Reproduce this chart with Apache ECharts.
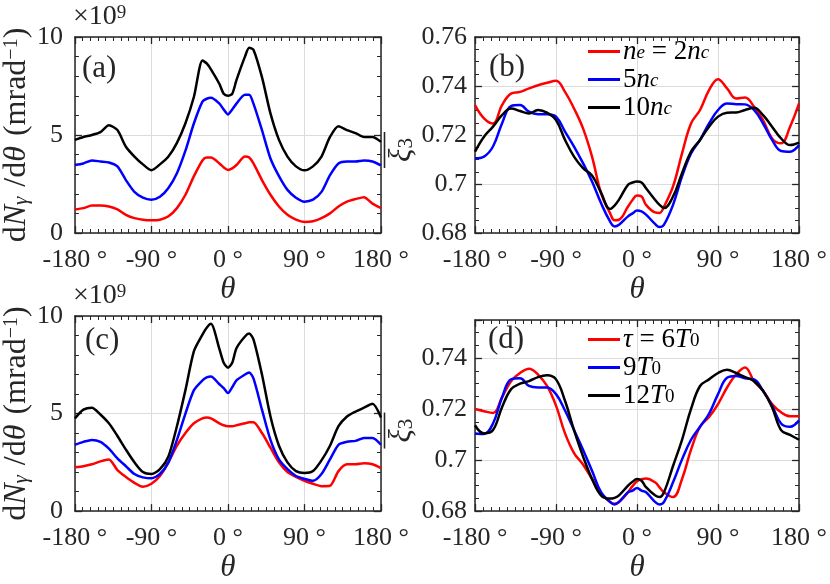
<!DOCTYPE html>
<html>
<head>
<meta charset="utf-8">
<script src="https://cdn.jsdelivr.net/npm/echarts@6/dist/echarts.min.js"></script>
<style>
html,body{margin:0;padding:0;background:#fff;}
#chart{width:830px;height:584px;}
</style>
</head>
<body>
<div id="chart"></div>
<script>
// ---- data ----
const theta = [-180,-170,-160,-150,-140,-130,-120,-110,-100,-90,-80,-70,-60,-50,-40,-30,-25,-20,-10,-5,0,5,10,20,25,30,40,50,60,70,80,90,100,110,120,130,140,150,160,170,180];
const xTicks = [-180,-90,0,90,180];

// panel (a): dN/dθ (×1e9), ne = 2nc, 5nc, 10nc
const a_red   = [1.2,1.27,1.4,1.4,1.35,1.2,0.93,0.76,0.68,0.65,0.68,0.85,1.27,1.95,2.9,3.7,3.85,3.85,3.55,3.35,3.22,3.3,3.47,3.9,3.85,3.55,2.7,1.95,1.35,0.93,0.68,0.56,0.6,0.76,1.0,1.35,1.6,1.73,1.83,1.5,1.27];
const a_blue  = [3.47,3.55,3.7,3.65,3.6,3.4,2.7,2.1,1.8,1.7,1.85,2.3,3.05,4.2,5.6,6.7,6.85,6.9,6.6,6.3,6.05,6.3,6.6,7.05,7.05,6.6,5.25,3.8,2.9,2.2,1.8,1.6,1.7,2.1,2.95,3.55,3.65,3.65,3.7,3.65,3.45];
const a_black = [4.75,4.9,5.0,5.15,5.5,5.25,4.4,3.9,3.5,3.2,3.5,3.9,4.6,5.6,6.95,8.8,8.65,8.35,7.6,7.1,7.0,7.1,7.8,9.0,9.45,9.35,7.95,6.1,4.75,3.9,3.4,3.2,3.4,3.9,4.9,5.45,5.25,5.1,4.9,4.9,4.65];

// panel (b): ξ3, ne = 2nc, 5nc, 10nc
const b_red   = [0.7322,0.7268,0.7247,0.7322,0.7369,0.7376,0.739,0.7403,0.7413,0.7421,0.7376,0.7308,0.7227,0.7112,0.6963,0.6881,0.6852,0.6854,0.6908,0.6935,0.6953,0.6949,0.6915,0.6884,0.6882,0.6908,0.699,0.7125,0.7247,0.7302,0.7383,0.7428,0.739,0.7349,0.7353,0.7315,0.7261,0.7186,0.7166,0.7234,0.7329];
const b_blue  = [0.7105,0.7112,0.7153,0.7247,0.7318,0.7322,0.7295,0.7285,0.7285,0.7275,0.7214,0.7153,0.7085,0.701,0.6922,0.6847,0.6827,0.6834,0.6868,0.688,0.6892,0.6888,0.6875,0.6837,0.6824,0.6834,0.6915,0.7031,0.7125,0.718,0.7247,0.7302,0.7329,0.7326,0.7325,0.7302,0.7247,0.718,0.7135,0.7132,0.7159];
const b_black = [0.7132,0.7193,0.7234,0.7281,0.7308,0.7298,0.7288,0.7302,0.7291,0.7261,0.718,0.7112,0.7065,0.7035,0.6965,0.6898,0.6912,0.6936,0.6997,0.7006,0.701,0.7006,0.6983,0.6936,0.6915,0.6902,0.6949,0.7044,0.7132,0.718,0.7234,0.7275,0.7291,0.7292,0.7302,0.7311,0.7281,0.7234,0.7186,0.7159,0.7169];

// panel (c): dN/dθ (×1e9), τ = 6T0, 9T0, 12T0
const c_red   = [2.25,2.3,2.4,2.55,2.65,2.1,1.75,1.45,1.25,1.4,1.8,2.5,3.35,4.0,4.5,4.75,4.8,4.75,4.5,4.4,4.35,4.35,4.4,4.5,4.55,4.55,4.0,3.25,2.5,2.0,1.75,1.55,1.4,1.28,1.3,2.05,2.4,2.4,2.45,2.4,2.2];
const c_blue  = [3.4,3.55,3.65,3.55,3.2,2.7,2.3,1.9,1.73,1.68,1.9,2.5,3.65,5.0,6.2,6.7,6.85,6.9,6.5,6.3,6.05,6.35,6.7,7.0,7.1,6.8,5.2,3.65,2.65,2.15,1.8,1.65,1.55,1.9,2.65,3.4,3.55,3.6,3.75,3.75,3.4];
const c_black = [4.75,5.2,5.3,4.95,4.5,3.85,3.15,2.5,2.0,1.9,2.15,2.8,4.35,6.2,8.2,9.05,9.4,9.6,8.3,7.6,7.35,7.6,8.35,8.95,9.1,8.8,7.0,4.85,3.35,2.5,2.05,1.95,2.05,2.6,3.35,4.35,4.85,5.1,5.3,5.5,4.8];

// panel (d): ξ3, τ = 6T0, 9T0, 12T0
const d_red   = [0.7201,0.7192,0.7185,0.7246,0.731,0.7342,0.7359,0.7336,0.7291,0.7214,0.7105,0.7028,0.6983,0.6926,0.6868,0.6836,0.6829,0.6836,0.6874,0.6898,0.6917,0.6925,0.6928,0.6913,0.6893,0.6874,0.6855,0.6926,0.7041,0.7131,0.7169,0.722,0.7285,0.7336,0.7364,0.731,0.7272,0.722,0.7188,0.7172,0.7172];
const d_blue  = [0.7105,0.7103,0.7144,0.7246,0.7317,0.7321,0.7291,0.7285,0.7285,0.7259,0.7195,0.7118,0.7041,0.6958,0.6874,0.6836,0.6826,0.6836,0.6874,0.688,0.6891,0.688,0.6874,0.6836,0.6826,0.6836,0.6913,0.7003,0.708,0.7131,0.7182,0.7259,0.7323,0.733,0.7321,0.7317,0.7272,0.7214,0.7144,0.7131,0.7156];
const d_black = [0.7137,0.7105,0.7118,0.7208,0.7278,0.73,0.731,0.7326,0.7333,0.7317,0.7233,0.7118,0.7015,0.6926,0.6862,0.6849,0.6852,0.6862,0.69,0.6915,0.6926,0.6919,0.6894,0.6862,0.6855,0.6874,0.6977,0.708,0.7201,0.7291,0.7317,0.7342,0.7355,0.7342,0.7326,0.731,0.7272,0.7208,0.7118,0.7099,0.708];

const legendB = ['ne2', 'ne5', 'ne10'];
const legendD = ['tau6', 'tau9', 'tau12'];

// ---- styling ----
const FONT = 'Liberation Serif';
const AX = '#262626';
const GRIDC = '#dcdcdc';
const COLORS = ['#ff0000', '#0000ff', '#000000'];

function tok(size, italic, extra) {
  return Object.assign({fontFamily: FONT, fontSize: size, fontStyle: italic ? 'italic' : 'normal',
    fontWeight: 'normal', color: AX}, extra || {});
}
const rich = {
  r: tok(32, false, {lineHeight: 30}),
  i: tok(32, true, {lineHeight: 30}),
  s: tok(21, true, {lineHeight: 18, verticalAlign: 'bottom'}),
  p: tok(20, false, {lineHeight: 18, verticalAlign: 'top'}),
  sp: {width: 10, fontSize: 4, lineHeight: 4, fontFamily: FONT},
  xr: tok(28, false, {lineHeight: 26}),
  xp: tok(19, false, {lineHeight: 17, verticalAlign: 'top'}),
  xi: tok(31, true, {lineHeight: 30}),
  x3: tok(21, false, {lineHeight: 18, verticalAlign: 'bottom'}),
  bar: {width: 36, height: 1.6, backgroundColor: AX, fontSize: 2, lineHeight: 5, fontFamily: FONT}
};
const legendRich = {
  r: tok(27, false, {color: '#000', lineHeight: 22}),
  i: tok(27, true, {color: '#000', lineHeight: 22}),
  s: tok(19, true, {color: '#000', lineHeight: 14, verticalAlign: 'bottom'}),
  sr: tok(19, false, {color: '#000', lineHeight: 14, verticalAlign: 'bottom'})
};
const legendText = {
  ne2: '{i|n}{s|e}{r| = 2}{i|n}{s|c}',
  ne5: '{r|5}{i|n}{s|c}',
  ne10: '{r|10}{i|n}{s|c}',
  tau6: '{i|τ}{r| = 6}{i|T}{sr|0}',
  tau9: '{r|9}{i|T}{sr|0}',
  tau12: '{r|12}{i|T}{sr|0}'
};

const grids = [
  {left: 72, top: 37, width: 309, height: 196},
  {left: 475, top: 37, width: 326, height: 196},
  {left: 72, top: 316, width: 309, height: 199},
  {left: 475, top: 320, width: 326, height: 195}
];
const yRanges = [
  {min: 0, max: 10, interval: 5, minor: 5},
  {min: 0.68, max: 0.76, interval: 0.02, minor: 4},
  {min: 0, max: 10, interval: 5, minor: 5},
  {min: 0.68, max: 0.755, interval: 0.02, minor: 4}
];
const thetaGap = [31, 31, 37, 37];

const xAxis = [], yAxis = [];
grids.forEach((g, gi) => {
  const lineStyle = {color: AX, width: 1.5};
  const base = {
    type: 'value', gridIndex: gi, min: -180, max: 180, interval: 90,
    axisLine: {show: true, onZero: false, lineStyle},
    axisTick: {show: true, inside: true, length: 7, lineStyle: {color: AX, width: 1.3}},
    minorTick: {show: true, splitNumber: 10, length: 4, lineStyle: {color: AX, width: 1}}
  };
  xAxis.push(Object.assign({}, base, {
    position: 'bottom',
    splitLine: {show: true, lineStyle: {color: GRIDC, width: 1}},
    axisLabel: {margin: 14, fontSize: 26, fontFamily: FONT, fontWeight: 'normal', color: AX,
      formatter: v => (xTicks.indexOf(v) >= 0 ? String(v) + ' °' : '')},
    name: 'θ', nameLocation: 'middle', nameGap: thetaGap[gi],
    nameTextStyle: {fontFamily: FONT, fontSize: 31, fontStyle: 'italic', fontWeight: 'normal', color: AX}
  }));
  xAxis.push(Object.assign({}, base, {
    position: 'top', splitLine: {show: false}, axisLabel: {show: false}
  }));
  const yr = yRanges[gi];
  const ybase = {
    type: 'value', gridIndex: gi, min: yr.min, max: yr.max, interval: yr.interval,
    axisLine: {show: true, onZero: false, lineStyle},
    axisTick: {show: true, inside: true, length: 7, lineStyle: {color: AX, width: 1.3}},
    minorTick: {show: true, splitNumber: yr.minor, length: 4, lineStyle: {color: AX, width: 1}}
  };
  const isXi = (gi % 2 === 1);
  const left = Object.assign({}, ybase, {
    position: 'left',
    splitLine: {show: true, lineStyle: {color: GRIDC, width: 1}},
    axisLabel: {margin: isXi ? 8 : 12, fontSize: 26, fontFamily: FONT, fontWeight: 'normal',
      color: AX, showMaxLabel: gi !== 3, formatter: v => String(+v.toFixed(3))},
    nameLocation: 'middle', nameRotate: 90
  });
  if (isXi) {
    left.name = '{bar| }\n{xi|ξ}{x3|3}';
    left.nameGap = 58;
    left.nameTextStyle = {fontFamily: FONT, rich, padding: [0, 30, 0, 0]};
  } else {
    left.name = '{r|d}{i|N}{s|γ}{sp| }{r|/d}{i|θ}{sp| }{r|(mrad}{p|−1}{r|)}';
    left.nameGap = 39;
    left.nameTextStyle = {fontFamily: FONT, rich};
  }
  yAxis.push(left);
  yAxis.push(Object.assign({}, ybase, {
    position: 'right', splitLine: {show: false}, axisLabel: {show: false}
  }));
});

function mk(name, arr, gi, ci, smooth) {
  return {
    name, type: 'line', xAxisIndex: 2 * gi, yAxisIndex: 2 * gi,
    data: theta.map((t, k) => [t, arr[k]]),
    showSymbol: false, smooth: smooth,
    lineStyle: {color: COLORS[ci], width: 2.5},
    itemStyle: {color: COLORS[ci]},
    emphasis: {disabled: true}
  };
}

const series = [
  mk('a2', a_red, 0, 0, 0.25), mk('a5', a_blue, 0, 1, 0.25), mk('a10', a_black, 0, 2, 0.25),
  mk(legendB[0], b_red, 1, 0, 0.4), mk(legendB[1], b_blue, 1, 1, 0.4), mk(legendB[2], b_black, 1, 2, 0.4),
  mk('c6', c_red, 2, 0, 0.25), mk('c9', c_blue, 2, 1, 0.25), mk('c12', c_black, 2, 2, 0.25),
  mk(legendD[0], d_red, 3, 0, 0.4), mk(legendD[1], d_blue, 3, 1, 0.4), mk(legendD[2], d_black, 3, 2, 0.4)
];

const legendBase = {
  orient: 'vertical', icon: 'rect', itemWidth: 32, itemHeight: 3, itemGap: 1,
  selectedMode: false,
  formatter: n => legendText[n],
  textStyle: {fontFamily: FONT, rich: legendRich, padding: [0, 0, 0, -2]}
};

const titleStyle = {fontFamily: FONT, fontSize: 31, fontWeight: 'normal', color: AX};
const option = {
  backgroundColor: '#fff',
  animation: false,
  textStyle: {fontFamily: FONT},
  title: [
    {text: '(a)', left: 82, top: 53, textStyle: titleStyle, padding: 0},
    {text: '(b)', left: 489, top: 52, textStyle: titleStyle, padding: 0},
    {text: '(c)', left: 85, top: 325, textStyle: titleStyle, padding: 0},
    {text: '(d)', left: 488, top: 324, textStyle: titleStyle, padding: 0},
    {text: '{xr|×10}{xp|9}', left: 73, top: 4, padding: 0, textStyle: {fontFamily: FONT, fontWeight: 'normal', rich}},
    {text: '{xr|×10}{xp|9}', left: 73, top: 283, padding: 0, textStyle: {fontFamily: FONT, fontWeight: 'normal', rich}}
  ],
  legend: [
    Object.assign({}, legendBase, {data: legendB, left: 583, top: 33}),
    Object.assign({}, legendBase, {data: legendD, left: 583, top: 321})
  ],
  grid: grids.map(g => Object.assign({show: false}, g)),
  xAxis, yAxis, series
};

const chart = echarts.init(document.getElementById('chart'));
chart.setOption(option);
</script>
</body>
</html>
